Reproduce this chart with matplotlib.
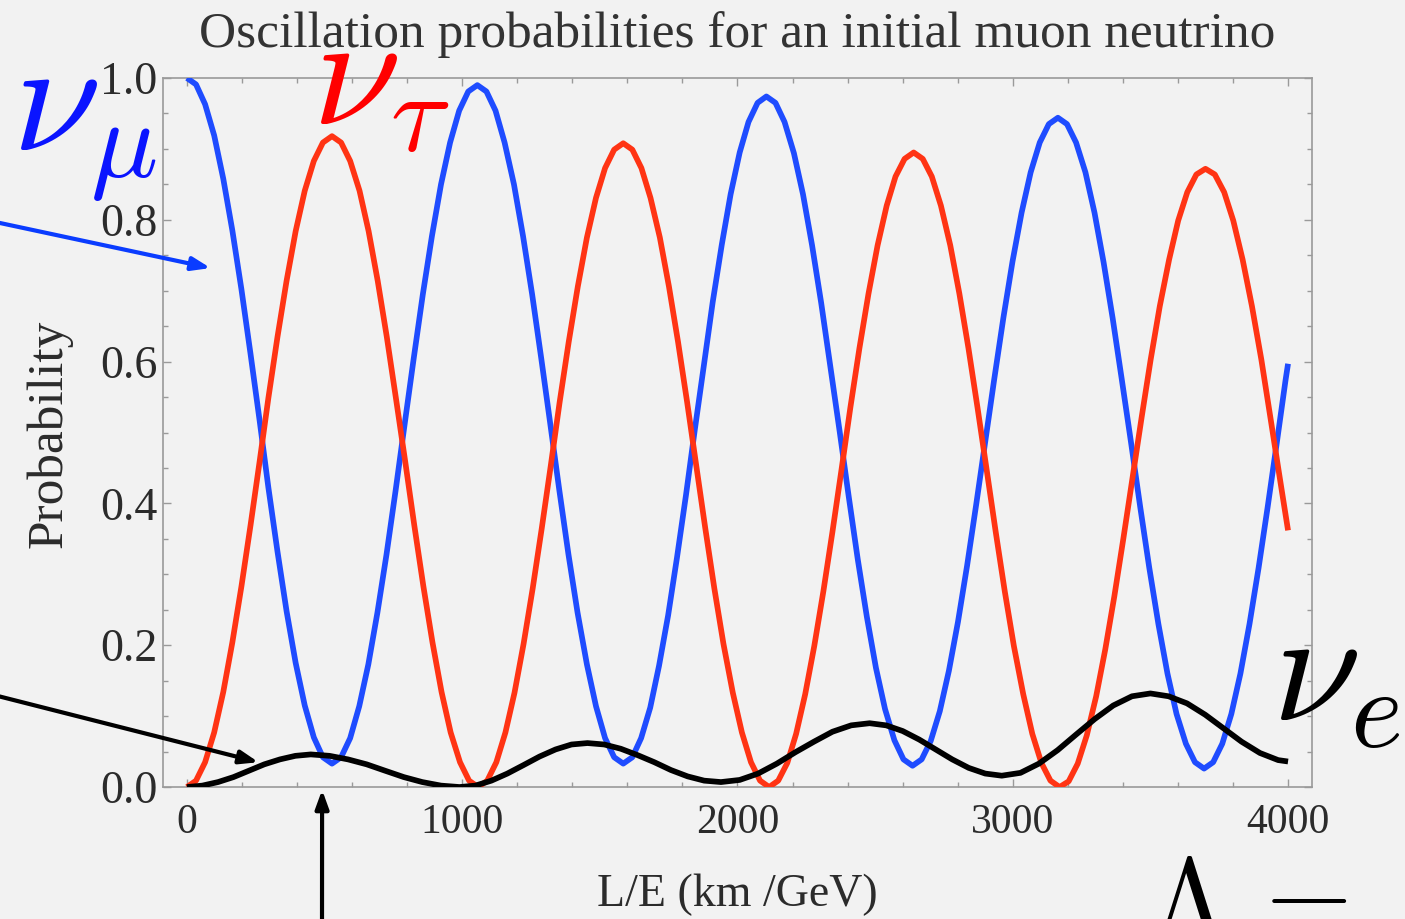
import matplotlib
matplotlib.use("Agg")
import matplotlib.pyplot as plt
from matplotlib.ticker import MultipleLocator

# values (L/E in km/GeV, probability)
mumu_x = [0, 33, 66, 99, 132, 165, 198, 231, 264, 296, 329, 362, 395, 428, 461, 494, 527,
          560, 593, 626, 659, 692, 725, 758, 791, 824, 857, 890, 923, 956, 989, 1022, 1055,
          1088, 1121, 1154, 1188, 1221, 1254, 1287, 1320, 1353, 1386, 1419, 1453, 1486, 1519, 1552, 1585,
          1618, 1650, 1683, 1715, 1748, 1780, 1813, 1845, 1878, 1910, 1943, 1975, 2008, 2040, 2073, 2105,
          2138, 2171, 2205, 2238, 2271, 2304, 2337, 2371, 2404, 2437, 2470, 2503, 2536, 2570, 2603, 2636,
          2669, 2702, 2735, 2768, 2801, 2834, 2867, 2900, 2933, 2966, 2999, 3032, 3065, 3098, 3131, 3164,
          3197, 3230, 3264, 3297, 3330, 3363, 3396, 3430, 3463, 3496, 3529, 3562, 3595, 3629, 3662, 3695,
          3728, 3761, 3794, 3827, 3860, 3893, 3926, 3959, 3991, 4000]
mumu_y = [1.000, 0.991, 0.963, 0.919, 0.858, 0.785, 0.702, 0.611, 0.517, 0.422, 0.332, 0.248, 0.175, 0.115, 0.070, 0.042, 0.033,
          0.042, 0.069, 0.114, 0.173, 0.246, 0.328, 0.418, 0.512, 0.605, 0.695, 0.777, 0.850, 0.909, 0.954, 0.981, 0.990,
          0.981, 0.954, 0.909, 0.850, 0.777, 0.695, 0.605, 0.512, 0.418, 0.328, 0.246, 0.173, 0.114, 0.069, 0.042, 0.033,
          0.042, 0.069, 0.112, 0.171, 0.242, 0.323, 0.412, 0.504, 0.595, 0.684, 0.765, 0.836, 0.895, 0.938, 0.965, 0.974,
          0.965, 0.938, 0.894, 0.836, 0.764, 0.683, 0.594, 0.502, 0.410, 0.321, 0.240, 0.168, 0.110, 0.066, 0.039, 0.030,
          0.039, 0.065, 0.107, 0.164, 0.233, 0.312, 0.398, 0.487, 0.576, 0.662, 0.741, 0.810, 0.867, 0.909, 0.935, 0.944,
          0.935, 0.909, 0.867, 0.810, 0.740, 0.661, 0.575, 0.485, 0.395, 0.309, 0.230, 0.160, 0.103, 0.061, 0.035, 0.026,
          0.035, 0.061, 0.103, 0.160, 0.230, 0.309, 0.395, 0.485, 0.574, 0.597]

mutau_x = [0, 33, 66, 99, 132, 165, 198, 231, 264, 296, 329, 362, 395, 428, 461, 494, 527,
           560, 593, 627, 660, 693, 726, 759, 793, 826, 859, 892, 925, 958, 992, 1025, 1058,
           1091, 1124, 1157, 1190, 1223, 1256, 1289, 1322, 1354, 1387, 1420, 1453, 1486, 1519, 1552, 1585,
           1618, 1651, 1684, 1718, 1751, 1784, 1817, 1850, 1883, 1916, 1949, 1983, 2016, 2049, 2082, 2115,
           2148, 2181, 2213, 2246, 2279, 2312, 2345, 2378, 2410, 2443, 2476, 2509, 2542, 2574, 2607, 2640,
           2673, 2706, 2739, 2773, 2806, 2839, 2872, 2905, 2938, 2971, 3004, 3038, 3071, 3104, 3137, 3170,
           3203, 3236, 3269, 3303, 3336, 3369, 3402, 3435, 3468, 3501, 3534, 3568, 3601, 3634, 3667, 3700,
           3734, 3768, 3801, 3835, 3869, 3903, 3936, 3970, 4000]
mutau_y = [0.000, 0.009, 0.035, 0.077, 0.134, 0.204, 0.283, 0.369, 0.459, 0.549, 0.635, 0.714, 0.784, 0.841, 0.883, 0.909, 0.918,
           0.909, 0.883, 0.841, 0.784, 0.714, 0.635, 0.549, 0.459, 0.369, 0.283, 0.204, 0.134, 0.077, 0.035, 0.009, 0.000,
           0.009, 0.035, 0.077, 0.133, 0.202, 0.280, 0.365, 0.454, 0.543, 0.628, 0.706, 0.775, 0.831, 0.873, 0.899, 0.908,
           0.899, 0.873, 0.831, 0.775, 0.706, 0.628, 0.543, 0.454, 0.365, 0.280, 0.202, 0.133, 0.077, 0.035, 0.009, 0.000,
           0.009, 0.034, 0.075, 0.131, 0.199, 0.276, 0.360, 0.448, 0.535, 0.619, 0.696, 0.764, 0.820, 0.861, 0.886, 0.895,
           0.886, 0.861, 0.820, 0.764, 0.696, 0.619, 0.535, 0.448, 0.360, 0.276, 0.199, 0.131, 0.075, 0.034, 0.009, 0.000,
           0.008, 0.033, 0.073, 0.128, 0.194, 0.269, 0.351, 0.436, 0.521, 0.603, 0.678, 0.744, 0.799, 0.839, 0.864, 0.872,
           0.864, 0.839, 0.799, 0.744, 0.678, 0.603, 0.521, 0.436, 0.362]

mue_x = [0, 56, 113, 169, 225, 281, 338, 394, 450,
         518, 585, 653, 720, 788, 855, 923, 990,
         1048, 1106, 1164, 1223, 1281, 1339, 1397, 1455,
         1516, 1576, 1637, 1698, 1758, 1819, 1879, 1940,
         2008, 2075, 2143, 2210, 2278, 2345, 2413, 2480,
         2540, 2600, 2660, 2720, 2780, 2840, 2900, 2960,
         3028, 3095, 3163, 3230, 3298, 3365, 3433, 3500,
         3566, 3633, 3699, 3765, 3831, 3898, 3964, 4000]
mue_y = [0.000, 0.002, 0.007, 0.014, 0.023, 0.032, 0.039, 0.044, 0.046,
         0.044, 0.039, 0.032, 0.023, 0.014, 0.007, 0.002, 0.000,
         0.002, 0.009, 0.019, 0.031, 0.043, 0.053, 0.060, 0.062,
         0.060, 0.054, 0.045, 0.035, 0.024, 0.015, 0.009, 0.007,
         0.010, 0.019, 0.033, 0.049, 0.064, 0.078, 0.087, 0.090,
         0.087, 0.079, 0.067, 0.053, 0.039, 0.027, 0.019, 0.016,
         0.020, 0.033, 0.052, 0.074, 0.096, 0.115, 0.128, 0.132,
         0.128, 0.118, 0.102, 0.083, 0.064, 0.048, 0.038, 0.036]

x_ticks = [0, 1000, 2000, 3000, 4000]
y_ticks = [0.0, 0.2, 0.4, 0.6, 0.8, 1.0]

plt.rcParams['mathtext.fontset'] = 'cm'
serif = ['Liberation Serif', 'DejaVu Serif']
bg = '#f2f2f2'
axis_gray = '#9a9a9a'
text_gray = '#2b2b2b'

fig = plt.figure(figsize=(14.05, 9.19), dpi=100, facecolor=bg)
ax = fig.add_axes([0.1160, 0.1436, 0.8178, 0.7715], facecolor=bg)

ax.plot(mumu_x, mumu_y, color='#1f4cff', lw=4.1, solid_capstyle='butt', zorder=3)
ax.plot(mutau_x, mutau_y, color='#ff3414', lw=4.1, solid_capstyle='butt', zorder=3)
ax.plot(mue_x, mue_y, color='black', lw=4.1, solid_capstyle='butt', zorder=4)

ax.set_xlim(-87, 4087)
ax.set_ylim(0, 1)
ax.set_xticks(x_ticks)
ax.set_yticks(y_ticks)
ax.set_xticklabels([str(v) for v in x_ticks])
ax.set_yticklabels(['%.1f' % v for v in y_ticks])
ax.xaxis.set_minor_locator(MultipleLocator(200))
ax.yaxis.set_minor_locator(MultipleLocator(0.05))
ax.tick_params(which='both', direction='in', top=True, right=True, color=axis_gray, width=1.0)
ax.tick_params(which='major', length=6)
ax.tick_params(which='minor', length=3.5)
ax.tick_params(axis='x', labelsize=30, labelcolor=text_gray, pad=12)
ax.tick_params(axis='y', labelsize=33, labelcolor=text_gray, pad=4)
for lab in ax.get_xticklabels() + ax.get_yticklabels():
    lab.set_family(serif)
for sp in ax.spines.values():
    sp.set_color(axis_gray)
    sp.set_linewidth(1.2)

fig.text(0.5246, 1 - 35 / 919, 'Oscillation probabilities for an initial muon neutrino',
         ha='center', va='center', fontsize=37, color='#333333', family=serif)
fig.text(0.5246, 1 - 895 / 919, 'L/E (km /GeV)', ha='center', va='center',
         fontsize=33, color=text_gray, family=serif)
fig.text(49 / 1405, 1 - 434 / 919, 'Probability', ha='center', va='center',
         rotation=90, fontsize=37, color=text_gray, family=serif)

# big flavour labels
fig.text(12 / 1405, 1 - 150 / 919, r'$\nu_\mu$', color='#0a14ff', fontsize=115,
         ha='left', va='baseline')
fig.text(312 / 1405, 1 - 124 / 919, r'$\nu_\tau$', color='#ff0000', fontsize=115,
         ha='left', va='baseline')
fig.text(1272 / 1405, 1 - 720 / 919, r'$\nu_e$', color='black', fontsize=115,
         ha='left', va='baseline')
# formula cut off at the bottom-right edge of the slide
fig.text(1150 / 1405, 1 - 936 / 919, r'$\Lambda$', color='black', fontsize=80,
         ha='left', va='baseline')
fig.text(1246 / 1405, 1 - 938 / 919, r'$=$', color='black', fontsize=80,
         ha='left', va='baseline')

# arrows pointing at the curves
arrow_kw = dict(arrowstyle='-|>,head_length=1.1,head_width=0.4', lw=3, shrinkA=0, shrinkB=0)
ax.annotate('', xy=(86, 0.732), xycoords='data', xytext=(-0.01, 1 - 220 / 919),
            textcoords='figure fraction', annotation_clip=False,
            arrowprops=dict(color='#0a3cff', **arrow_kw))
ax.annotate('', xy=(260, 0.035), xycoords='data', xytext=(-0.01, 1 - 693 / 919),
            textcoords='figure fraction', annotation_clip=False,
            arrowprops=dict(color='black', **arrow_kw))
ax.annotate('', xy=(491, -0.004), xycoords='data', xytext=(322 / 1405, -0.02),
            textcoords='figure fraction', annotation_clip=False,
            arrowprops=dict(color='black', **arrow_kw))

fig.savefig('out.png', dpi=100, facecolor=bg)
